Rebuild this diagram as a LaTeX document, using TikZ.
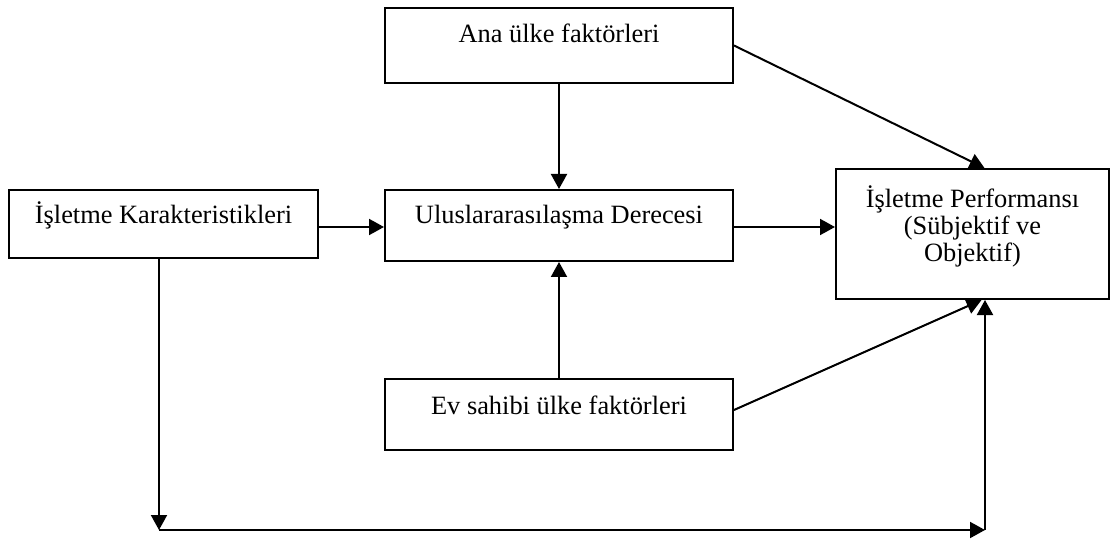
\documentclass[tikz,border=0pt]{standalone}
\usepackage{fontspec}
\setmainfont{Liberation Serif}
\usetikzlibrary{arrows.meta}
\begin{document}
\begin{tikzpicture}[x=0.5pt,y=-0.5pt,
  box/.style={draw, line width=1pt, inner sep=0pt, anchor=north west,
    font=\fontsize{13.2}{13.3}\selectfont},
  arr/.style={line width=1pt, -{Triangle[length=7.5pt,width=8pt]}},
  link/.style={line width=1pt}]
\useasboundingbox (0,0) rectangle (1110,540);

% boxes (pixel grid, origin top left)
\node[box, minimum width=174pt, text height=17.5pt, text depth=20pt] (ana) at (384,7) {Ana ülke faktörleri};
\node[box, minimum width=154.5pt, text height=17pt, text depth=17pt] (isl) at (8,189) {İşletme Karakteristikleri};
\node[box, minimum width=174pt, text height=17pt, text depth=18.5pt] (ulus) at (384,189) {Uluslararasılaşma Derecesi};
\node[box, minimum width=174pt, text height=17.5pt, text depth=18pt] (ev) at (384,378) {Ev sahibi ülke faktörleri};
\node[box, minimum width=136.5pt, text height=19.5pt, text depth=45.5pt] (perf) at (835,168)
  {\begin{tabular}[t]{@{}c@{}}İşletme Performansı\\(Sübjektif ve\\Objektif)\end{tabular}};

% turning points of the lower feedback path
\coordinate (bl) at (159,530);
\coordinate (br) at (985,530);

% connectors
\draw[arr] (ana.south) -- (ulus.north);
\draw[arr] (ana.east) -- ([xshift=6pt]perf.north);
\draw[arr] (isl.east |- 0,227) -- (ulus.west |- 0,227);
\draw[arr] (ulus.east |- 0,227) -- (perf.west |- 0,227);
\draw[arr] (ev.north) -- (ulus.south);
\draw[arr] (ev.east |- 0,410) -- ([xshift=4.5pt]perf.south);
\draw[arr] (isl.south -| bl) -- (bl);
\draw[arr] (bl) -- (br);
\draw[arr] (br) -- (br |- perf.south);
\end{tikzpicture}
\end{document}
